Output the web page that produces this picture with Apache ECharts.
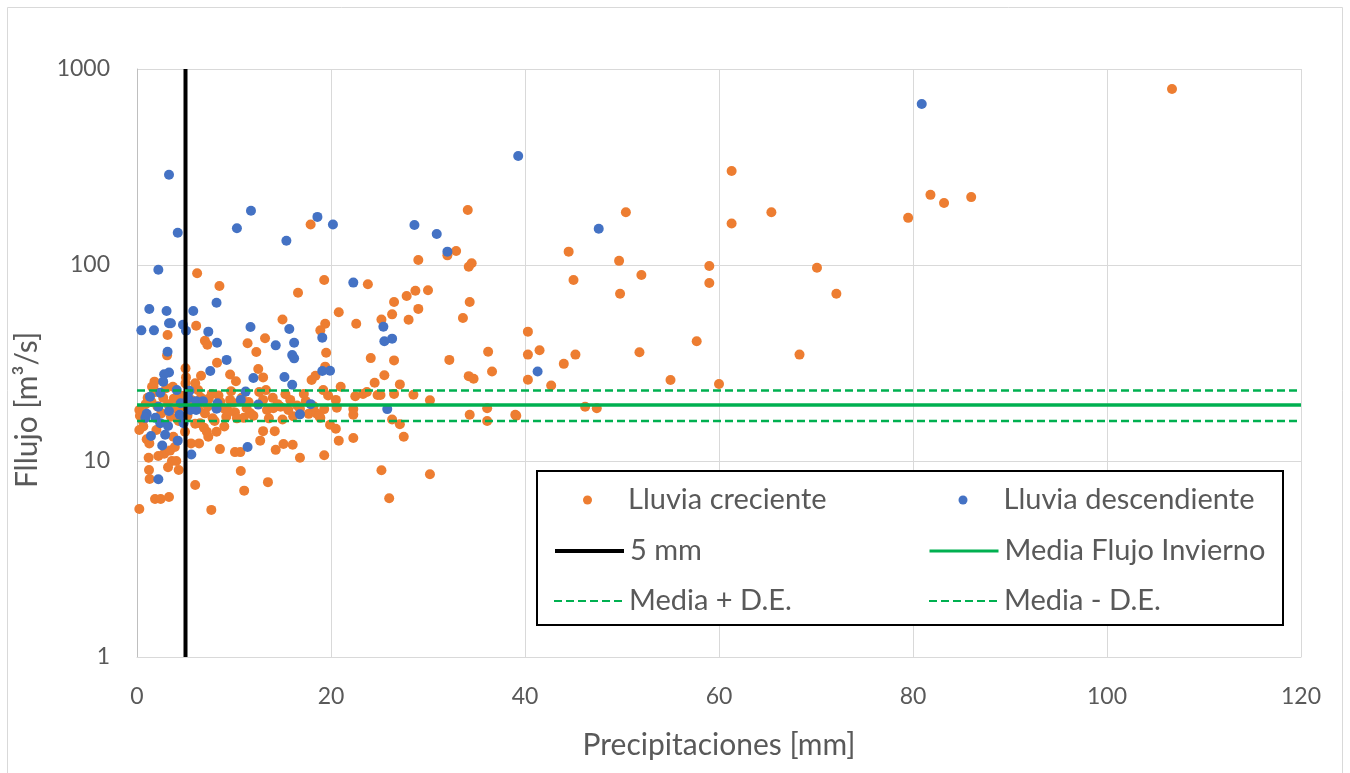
<!DOCTYPE html>
<html>
<head>
<meta charset="utf-8">
<script src="https://cdn.jsdelivr.net/npm/echarts@6/dist/echarts.min.js"></script>
<style>
  html, body { margin: 0; padding: 0; background: #ffffff; }
  #chart { width: 1350px; height: 773px; }
</style>
</head>
<body>
<div id="chart"></div>
<script>
// Precipitation [mm] vs. flow [m3/s] pairs, split by rainfall trend
const lluviaCreciente = [
  [106.7,790],[61.3,302],[61.3,163],[65.4,186],[79.5,174],[81.8,228],[83.2,207],[86.0,222],
  [50.4,186],[44.5,117],[49.7,105],[45.0,83.8],[52.0,88.9],[49.8,71.4],[59.0,98.9],[59.0,80.9],
  [70.1,96.9],[72.1,71.4],[41.5,36.7],[44.0,31.3],[45.2,34.9],[51.8,35.9],[57.7,40.8],[68.3,34.9],
  [42.7,24.3],[55.0,25.9],[60.0,24.7],[46.2,18.9],[47.4,18.6],
  [34.1,191],[32.0,112],[32.9,118],[29.0,106],[34.2,98],[34.5,102],[26.5,64.8],[27.8,69.5],
  [28.7,73.9],[30.0,74.3],[26.3,56.0],[29.0,59.7],[28.0,52.6],[25.2,52.7],[34.3,64.8],[33.6,53.7],
  [26.5,32.6],[40.3,45.7],[40.3,34.9],[36.2,36.1],[36.6,28.6],[32.2,32.8],[34.2,27.1],[34.7,26.3],
  [40.3,26.0],[25.5,27.4],[27.1,24.6],[25.1,21.7],[26.5,22.0],[28.5,21.8],[30.2,20.4],[26.3,16.3],
  [27.1,15.4],[27.5,13.3],[34.3,17.2],[36.1,18.6],[36.1,16.0],[39.0,17.2],[39.1,17.0],
  [23.8,79.7],[19.3,83.8],[20.8,57.4],[22.6,50.2],[19.4,50.2],[19.5,35.7],[24.1,33.5],[19.2,23.0],
  [21.0,23.9],[19.7,21.6],[20.5,20.5],[19.3,18.4],[20.6,18.7],[18.9,16.6],[19.9,15.3],[20.5,14.6],
  [20.8,12.7],[22.3,13.1],[19.3,10.7],[22.5,21.4],[23.3,22.0],[23.7,22.5],[24.5,25.1],[24.8,21.7],
  [22.3,18.4],[22.3,17.2],[25.2,8.97],[30.2,8.55],[26.0,6.45],
  [17.9,161],[6.2,90.7],[8.5,78.2],[16.6,72.2],
  [15.0,52.7],[18.9,46.4],[6.1,49.0],[3.15,43.9],[7.0,41.1],[7.25,39.2],[13.2,42.3],[11.4,39.9],
  [12.3,36.0],[3.1,34.6],[8.25,31.7],[5.0,29.7],[6.6,27.2],[9.6,27.6],[10.2,25.5],[12.5,29.5],
  [13.0,26.7],[18.0,25.9],[18.4,27.2],[19.4,30.3],[9.7,22.7],[13.3,23.0],[15.3,21.9],[17.4,20.2],
  [14.0,21.0],[13.0,20.5],[1.8,25.4],[1.55,23.9],[0.48,17.5],[0.24,18.2],[0.65,15.0],[1.27,12.3],
  [2.8,10.9],[1.2,10.4],[3.4,11.3],[3.6,10.0],[4.05,10.0],[3.2,9.3],[4.3,9.0],[1.24,9.0],
  [1.3,8.1],[1.86,6.4],[2.44,6.4],[3.3,6.55],[0.24,5.69],[7.66,5.63],[6.0,7.55],[5.57,12.3],
  [6.4,12.3],[8.55,11.5],[10.1,11.1],[10.65,11.1],[10.7,8.9],[11.05,7.06],[13.5,7.8],[12.7,12.7],
  [13.0,14.2],[14.2,14.2],[14.3,11.4],[15.1,12.2],[16.05,12.1],[16.8,10.4],[8.2,14.1],[7.35,13.3],
  [6.9,14.8],[9.2,16.8],[11.0,16.6],[14.8,18.9],[16.1,16.9],[17.7,17.4],[18.5,17.5],[9.6,20.5],
  [8.4,21.6],[7.4,20.8],[6.3,23.0],[6.0,24.9],[5.0,24.9],[5.05,26.7],[3.7,23.9],[2.0,14.4],
  [3.75,13.3],[4.95,14.1],[6.5,15.6],[7.8,16.5],[8.9,18.6],[10.1,17.7],[11.3,18.6],[11.7,17.5],
  [13.4,18.2],[14.05,18.6],[15.6,18.2],[16.5,19.2],[1.0,12.9],[2.2,10.6],[3.9,11.8],[0.24,14.4],
  [7.2,14.1],
  [0.3,17.0],[0.6,16.0],[0.9,19.5],[1.1,21.0],[1.5,20.0],[1.7,24.0],[1.9,22.5],[2.1,19.0],
  [2.5,17.5],[2.7,21.0],[3.0,23.5],[3.2,19.5],[3.5,16.8],[3.8,20.8],[4.1,18.5],[4.3,16.0],
  [4.6,21.5],[4.9,19.0],[5.2,17.0],[5.6,20.5],[6.0,15.5],[6.3,18.5],[6.6,21.0],[7.0,17.5],
  [7.3,19.0],[7.7,22.0],[8.0,16.0],[8.6,20.0],[9.0,15.0],[9.4,18.0],[9.9,19.8],[10.3,16.5],
  [10.8,21.0],[11.5,20.0],[12.0,17.0],[12.6,22.5],[13.6,16.5],[14.5,19.5],[15.0,16.3],[15.8,20.5],
  [16.8,18.5],[17.2,22.0],[18.2,19.0],[18.8,16.9]
];

const lluviaDescendiente = [
  [80.9,663],[39.3,360],[3.3,289],[11.75,189],[18.6,176],[28.6,160],[20.2,161],[10.3,154],
  [47.6,153],[4.2,146],[30.9,144],[15.4,133],[32.0,117],[2.2,94.6],[22.3,81.3],[8.2,64.2],
  [1.27,59.6],[3.05,58.3],[5.8,58.3],[3.3,50.4],[3.5,50.4],[4.74,49.6],[25.4,48.4],[11.7,48.3],
  [15.7,47.1],[0.45,46.4],[1.75,46.4],[5.05,46.2],[7.35,45.7],[19.1,42.6],[26.3,42.1],[25.5,40.8],
  [8.25,40.1],[16.2,40.1],[14.3,38.9],[3.15,36.1],[16.0,34.7],[16.2,33.4],[9.24,32.8],[7.55,28.8],
  [19.1,28.8],[19.9,28.9],[41.3,28.6],[3.3,28.3],[2.8,27.7],[15.2,26.8],[12.0,26.5],[2.7,25.4],
  [16.0,24.5],[4.1,23.0],[5.4,22.8],[11.2,22.6],[2.4,22.3],[1.34,21.3],[5.3,20.9],[10.7,20.5],
  [6.1,20.2],[6.8,20.2],[4.5,19.7],[8.3,19.7],[17.9,19.5],[12.5,19.4],[2.2,18.9],[8.2,18.5],
  [25.8,18.4],[5.5,18.2],[6.1,18.2],[3.3,18.0],[1.0,17.4],[16.8,17.3],[4.4,17.2],[0.86,16.6],
  [1.9,16.6],[2.4,15.6],[4.8,15.6],[3.2,15.1],[2.9,13.6],[1.44,13.4],[4.2,12.7],[2.6,12.0],
  [11.4,11.8],[5.6,10.8],[2.2,8.07]
];

// Reference lines
const umbralLluvia = 5;          // mm
const mediaFlujo = 19.3;         // m3/s
const mediaMasDE = 22.9;
const mediaMenosDE = 16.0;

// Axis ranges
const xRange = [0, 120];
const xStep = 20;
const yRange = [1, 1000];

const FONT = 'Lato';
const GREY_TEXT = '#595959';
const LEGEND_FONT = 29;
const GREEN = '#00b050';

const chart = echarts.init(document.getElementById('chart'), null, { renderer: 'canvas' });

// One legend block per entry so the two-column layout sits exactly inside the framed box
function legendLine(name, left, centerY, width) {
  return {
    data: [name], left: left, top: centerY - LEGEND_FONT / 2, padding: 0,
    itemWidth: 69, itemHeight: 14, itemGap: 0, selectedMode: false,
    itemStyle: { opacity: 0 },
    lineStyle: { width: width },
    textStyle: { fontFamily: FONT, fontSize: LEGEND_FONT, color: GREY_TEXT, padding: [0, 0, 0, 1] }
  };
}
function legendDot(name, left, centerY) {
  return {
    data: [name], left: left, top: centerY - LEGEND_FONT / 2, padding: 0,
    itemWidth: 9, itemHeight: 9, itemGap: 0, selectedMode: false, icon: 'circle',
    textStyle: { fontFamily: FONT, fontSize: LEGEND_FONT, color: GREY_TEXT, padding: [0, 0, 0, 31] }
  };
}

chart.setOption({
  backgroundColor: '#ffffff',
  animation: false,
  grid: { left: 137, right: 49, top: 69, bottom: 116 },
  xAxis: {
    type: 'value', min: xRange[0], max: xRange[1], interval: xStep,
    name: 'Precipitaciones [mm]', nameLocation: 'middle', nameGap: 73,
    nameTextStyle: { fontFamily: FONT, fontSize: 30, color: GREY_TEXT },
    axisLine: { onZero: false, lineStyle: { color: '#d9d9d9', width: 1 } },
    axisTick: { show: false },
    axisLabel: { fontFamily: FONT, fontSize: 23, color: GREY_TEXT, margin: 28 },
    splitLine: { show: true, lineStyle: { color: '#d9d9d9', width: 1 } }
  },
  yAxis: {
    type: 'log', logBase: 10, min: yRange[0], max: yRange[1],
    name: 'Fllujo [m³/s]', nameLocation: 'middle', nameGap: 95,
    nameTextStyle: { fontFamily: FONT, fontSize: 30, color: GREY_TEXT, padding: [0, 94, 0, 0] },
    axisLine: { show: true, lineStyle: { color: '#bfbfbf', width: 1 } },
    axisTick: { show: false },
    axisLabel: { fontFamily: FONT, fontSize: 23, color: GREY_TEXT, margin: 27,
                 formatter: v => String(Math.round(v)) },
    splitLine: { show: true, lineStyle: { color: '#d9d9d9', width: 1 } }
  },
  legend: [
    legendDot('Lluvia creciente', 583, 500),
    legendDot('Lluvia descendiente', 958.5, 500),
    legendLine('5 mm', 553, 551, 4),
    legendLine('Media Flujo Invierno', 928, 551, 3),
    legendLine('Media + D.E.', 553, 601, 2),
    legendLine('Media - D.E.', 928, 601, 2)
  ],
  graphic: [
    { type: 'rect', z: -1, silent: true,
      shape: { x: 7.5, y: 7.5, width: 1335, height: 800 },
      style: { fill: 'none', stroke: '#d9d9d9', lineWidth: 1 } },
    { type: 'rect', z: 3, silent: true,
      shape: { x: 537, y: 471, width: 746, height: 154 },
      style: { fill: '#ffffff', stroke: '#000000', lineWidth: 2 } }
  ],
  series: [
    {
      name: 'Lluvia creciente', type: 'scatter', data: lluviaCreciente,
      symbol: 'circle', symbolSize: 10, z: 2,
      itemStyle: { color: '#ed7d31', opacity: 1 }
    },
    {
      name: 'Lluvia descendiente', type: 'scatter', data: lluviaDescendiente,
      symbol: 'circle', symbolSize: 10, z: 2,
      itemStyle: { color: '#4472c4', opacity: 1 }
    },
    {
      name: '5 mm', type: 'line', symbol: 'none', silent: true, z: 2.5,
      data: [[umbralLluvia, yRange[0]], [umbralLluvia, yRange[1]]],
      lineStyle: { color: '#000000', width: 4 }, itemStyle: { color: '#000000' }
    },
    {
      name: 'Media Flujo Invierno', type: 'line', symbol: 'none', silent: true, z: 2.5,
      data: [[xRange[0], mediaFlujo], [xRange[1], mediaFlujo]],
      lineStyle: { color: GREEN, width: 3.5 }, itemStyle: { color: GREEN }
    },
    {
      name: 'Media + D.E.', type: 'line', symbol: 'none', silent: true, z: 2.5,
      data: [[xRange[0], mediaMasDE], [xRange[1], mediaMasDE]],
      lineStyle: { color: GREEN, width: 2.5, type: [8, 4] }, itemStyle: { color: GREEN }
    },
    {
      name: 'Media - D.E.', type: 'line', symbol: 'none', silent: true, z: 2.5,
      data: [[xRange[0], mediaMenosDE], [xRange[1], mediaMenosDE]],
      lineStyle: { color: GREEN, width: 2.5, type: [8, 4] }, itemStyle: { color: GREEN }
    }
  ]
});
</script>
</body>
</html>
